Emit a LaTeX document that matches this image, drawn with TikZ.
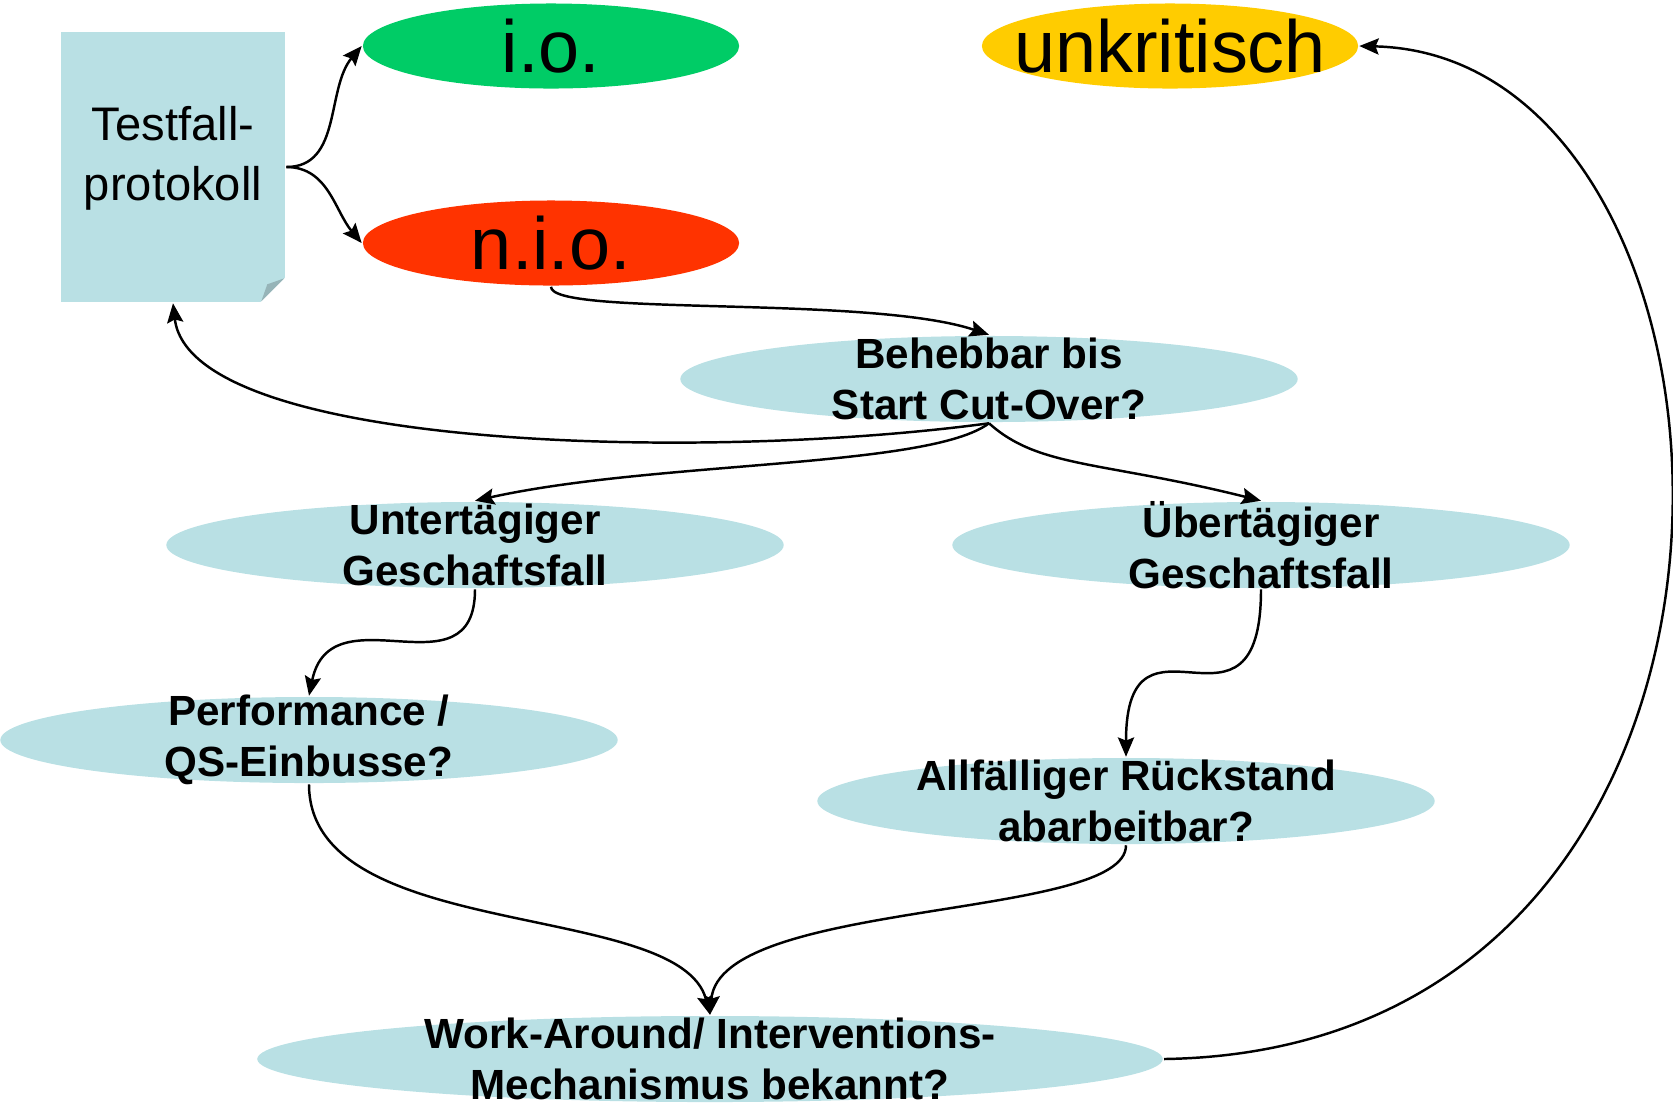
\documentclass[tikz,border=0pt]{standalone}
\usepackage{fontspec}
\setmainfont{Liberation Sans}
\usetikzlibrary{arrows.meta}
\usetikzlibrary{shapes.geometric}

\definecolor{casebg}{RGB}{185,224,228}
\definecolor{foldbg}{RGB}{150,180,184}
\definecolor{iogreen}{RGB}{0,204,102}
\definecolor{niored}{RGB}{255,51,0}
\definecolor{unkyellow}{RGB}{255,204,0}

\begin{document}
\begin{tikzpicture}[x=0.01cm,y=-0.01cm,>={Stealth[length=5.5pt,width=4.6pt,inset=0.9pt]},
                    line width=0.7pt,
                    result node/.style={ellipse,inner sep=0pt,minimum width=3.76cm,minimum height=0.85cm},
                    result text/.style={font=\fontsize{21}{25}\selectfont},
                    case node/.style={ellipse,fill=casebg,inner sep=0pt,minimum width=6.17cm,minimum height=0.86cm},
                    case text/.style={font=\bfseries\fontsize{12}{14.5}\selectfont,align=center}]

  \useasboundingbox (0,0) rectangle (1673,1102);
  \clip (0,0) rectangle (1673,1102);

  % protocol sheet with folded corner
  \node[fill=casebg,minimum width=2.24cm,minimum height=2.70cm,inner sep=0pt,
        label={[font=\fontsize{13.4}{17}\selectfont,align=center,yshift=0.09cm]center:Testfall-\\protokoll}]
        (doc) at (173,167) {};
  \fill[white] (doc.south east) -- +(0cm,0.27cm) -- +(-0.27cm,0cm) -- cycle;
  \fill[foldbg] ([shift={(-0.25cm,0.02cm)}]doc.south east) -- ([shift={(-0.02cm,0.25cm)}]doc.south east)
        -- ([shift={(-0.19cm,0.19cm)}]doc.south east) -- cycle;

  \node[result node,fill=iogreen,label={[result text]center:i.o.}] (io) at (551,46) {};
  \node[result node,fill=niored,label={[result text]center:n.i.o.}] (nio) at (551,243) {};
  \node[result node,fill=unkyellow,label={[result text]center:unkritisch}] (unk) at (1170,46) {};

  \node[case node,label={[case text]center:Behebbar bis\\Start Cut-Over?}] (beh) at (989,379) {};
  \node[case node,label={[case text]center:Untertägiger\\Geschaftsfall}] (unt) at (475,545) {};
  \node[case node,label={[case text]center:Übertägiger\\Geschaftsfall}] (ueb) at (1261,545) {};
  \node[case node,label={[case text]center:Performance /\\QS-Einbusse?}] (perf) at (309,740) {};
  \node[case node,label={[case text]center:Allfälliger Rückstand\\abarbeitbar?}] (allf) at (1126,801) {};
  \node[case node,minimum width=9.05cm,label={[case text]center:Work-Around/ Interventions-\\Mechanismus bekannt?}]
        (work) at (710,1059) {};

  \path[->]
    (doc.east) edge[out=0,in=-130] (io.west)
               edge[out=0,in=130] (nio.west);

  \draw[->] (nio.south) .. controls +(0,30) and +(-120,-40) .. (beh.north);
  \draw[->] (beh.south) .. controls +(-289,39) and +(17,146) .. (doc.south);
  \draw[->] (beh.south) .. controls +(-60,45) and +(180,-40) .. (unt.north);
  \draw[->] (beh.south) .. controls +(50,45) and +(-160,-40) .. (ueb.north);
  \draw[->] (unt.south) .. controls +(0,109) and +(22,-107) .. (perf.north);
  \draw[->] (ueb.south) .. controls +(0,171) and +(0,-167) .. (allf.north);
  \draw[->] (perf.south) .. controls +(0,160) and +(-30,-116) .. (work.north);
  \draw[->] (allf.south) .. controls +(0,75) and +(10,-116) .. (work.north);
  \draw[->] (work.east) .. controls +(665,-10) and +(420,10) .. (unk.east);
\end{tikzpicture}
\end{document}
